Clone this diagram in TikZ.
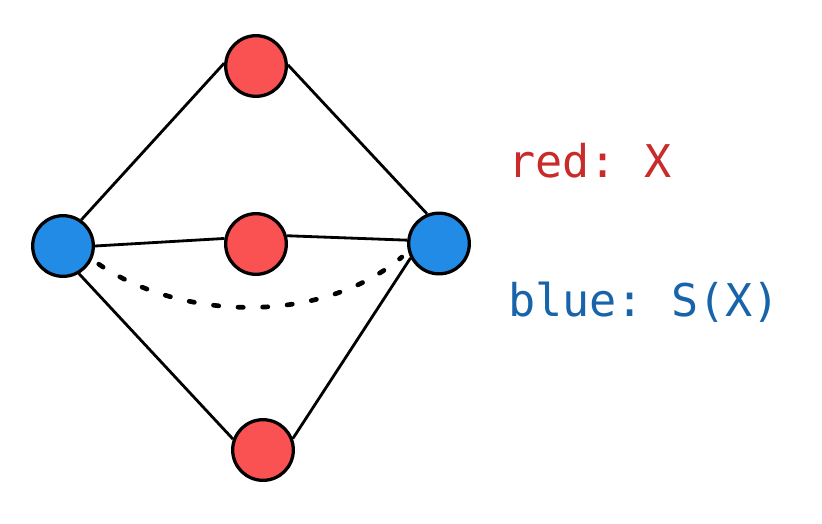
\documentclass[tikz,border=0pt]{standalone}
\usepackage{fontspec}
\setmonofont{DejaVu Sans Mono}
\definecolor{nodered}{HTML}{FA5252}
\definecolor{nodeblue}{HTML}{228BE6}
\definecolor{textred}{HTML}{C92A2A}
\definecolor{textblue}{HTML}{1864AB}
\usepackage{tikz}
\usetikzlibrary{positioning}

\begin{document}
\begin{tikzpicture}[x=0.03cm,y=-0.03cm,
          vert/.style={circle,draw=black,line width=2.8pt,minimum size=1.82cm,inner sep=0pt},
          xnode/.style={vert,fill=nodered},
          snode/.style={vert,fill=nodeblue},
          edge/.style={line width=2.4pt,black},
          dotline/.style={line width=4pt,line cap=round,dash pattern=on 4.5pt off 16.5pt},
          legend/.style={font=\ttfamily\fontsize{38.5}{42}\selectfont,anchor=base west,inner sep=0pt}]
        \useasboundingbox (0,0) rectangle (822,523);
        % vertices
        \node[xnode] (top) at (256,66) {};
        \node[xnode] (mid) at (256,244) {};
        \node[xnode] (bot) at (263,450) {};
        \node[snode] (left) at (63,246) {};
        \node[snode] (right) at (439,243.5) {};
        % edges
        \draw[edge] (left.55) -- (top.175);
        \draw[edge] (top.2) -- (right.112);
        \draw[edge] (left.0) -- (mid.170);
        \draw[edge] (mid.15) -- (right.174);
        \draw[edge] (left.-60) -- (bot.160);
        \draw[edge] (bot.21) -- (right.207);
        \draw[dotline,shorten <=7pt,shorten >=7pt]
          (left.-25) .. controls (180,320) and (320,326) .. (right.195);
        % legend
        \node[legend,text=textred] (lred) at (508,177) {red: X};
        \node[legend,text=textblue] (lblue) at (508,316) {blue: S(X)};
      \end{tikzpicture}
\end{document}
